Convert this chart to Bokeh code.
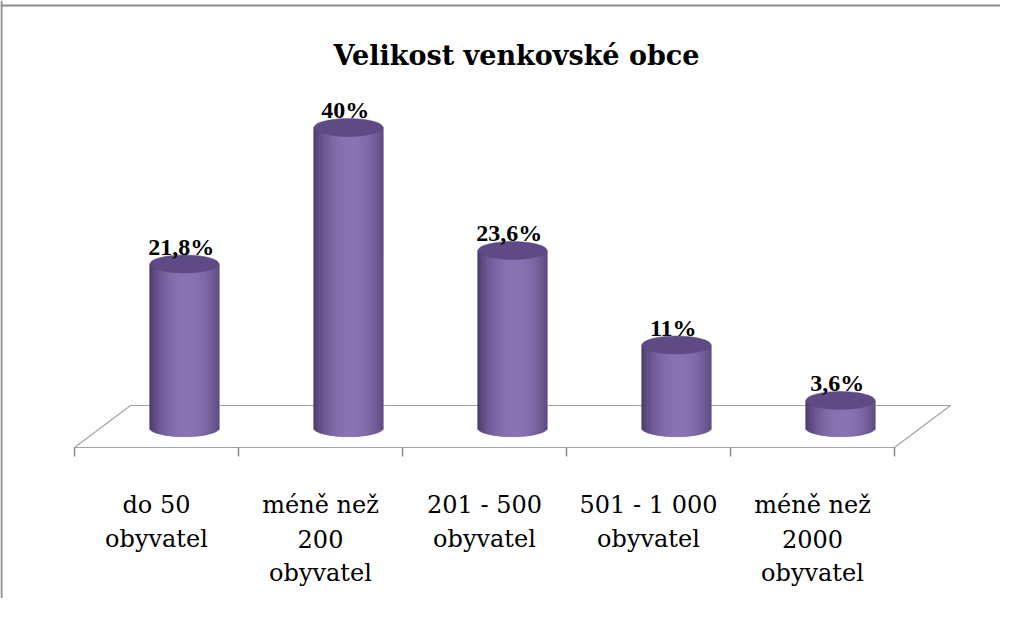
import math
from bokeh.plotting import figure
from bokeh.models import Range1d, Span, Label
from bokeh.core.properties import value
from bokeh.embed import file_html
from bokeh.resources import INLINE

# ---- data ----
title_text = "Velikost venkovské obce"
categories = ["do 50\nobyvatel", "méně než\n200\nobyvatel", "201 - 500\nobyvatel",
              "501 - 1 000\nobyvatel", "méně než\n2000\nobyvatel"]
values = [21.8, 40, 23.6, 11, 3.6]
value_labels = ["21,8%", "40%", "23,6%", "11%", "3,6%"]

# ---- geometry (category units on x, percent units on y) ----
PXU = 164.0
PYU = 7.5
depth_dx = 56 / PXU
floor_front = -20 / PYU
floor_back = 22 / PYU
bar_w = 69 / PXU
ell_b = 9 / PYU
tick_len = 9 / PYU
W, H = 1000, 598

p = figure(width=W, height=H, output_backend="svg", toolbar_location=None,
           x_range=Range1d(-156 / PXU, (W - 156) / PXU),
           y_range=Range1d(-(H - 427) / PYU, 427 / PYU),
           min_border=0, x_axis_type=None, y_axis_type=None)
p.grid.visible = False
p.outline_line_color = None
p.background_fill_color = "white"
p.border_fill_color = "white"

n = len(categories)
FONT_V = "Liberation Serif"
FONT_T = "DejaVu Serif"

# floor
fx = [-0.5, n - 0.5, n - 0.5 + depth_dx, -0.5 + depth_dx]
fy = [floor_front, floor_front, floor_back, floor_back]
p.patch(fx, fy, fill_color="white", line_color="#a3a3a3", line_width=1.2)
tx = [i - 0.5 for i in range(n + 1)]
p.segment(x0=tx, y0=[floor_front] * len(tx), x1=tx, y1=[floor_front - tick_len] * len(tx),
          line_color="#8a8a8a", line_width=1.5)

# cylinders
dark = (72, 55, 104)
light = (139, 116, 181)
N = 36
xs, ws, tops, bots, cols = [], [], [], [], []
for i, v in enumerate(values):
    cx = i + depth_dx / 2
    for j in range(N):
        t = -1 + (2 * j + 1) / N
        s = 1 - ((t - 0.08) / 1.08) ** 2
        s = max(0.0, min(1.0, s)) ** 0.8
        c = tuple(int(dark[k] + (light[k] - dark[k]) * s) for k in range(3))
        xs.append(cx + t * bar_w / 2)
        ws.append(bar_w / N)
        tops.append(v)
        bots.append(-ell_b * math.sqrt(max(0.0, 1 - t * t)))
        cols.append("#%02x%02x%02x" % c)
p.vbar(x=xs, width=ws, top=tops, bottom=bots, fill_color=cols, line_color=cols,
       line_width=1.2)

cxs = [i + depth_dx / 2 for i in range(n)]
p.ellipse(x=cxs, y=values, width=bar_w, height=2 * ell_b,
          fill_color="#5e4a84", line_color="#5a4780", line_width=0.5)

# value labels
p.text(x=[c - 0.02 for c in cxs], y=[v + ell_b + 1.1 for v in values], text=value_labels,
       text_font=value(FONT_V), text_font_style="bold", text_font_size="24px",
       text_align="center", text_baseline="alphabetic", text_color="black")

# category labels (one text per line)
lx, ly, lt = [], [], []
for i, c in enumerate(categories):
    for k, line in enumerate(c.split("\n")):
        lx.append(i)
        ly.append(-77 / PYU - k * 34 / PYU)
        lt.append(line)
p.text(x=lx, y=ly, text=lt, text_font=value(FONT_T), text_font_size="24px",
       text_align="center", text_baseline="alphabetic", text_color="black")

# title
p.add_layout(Label(x=516, y=H - 55, x_units="screen", y_units="screen", text=title_text,
                   text_font=FONT_T, text_font_style="bold", text_font_size="27px",
                   text_align="center", text_baseline="alphabetic", text_color="black"))

# chart border (top and left visible)
p.add_layout(Span(location=422 / PYU, dimension="width", line_color="#8c8c8c", line_width=2))
p.add_layout(Span(location=-156 / PXU + 1 / PXU, dimension="height", line_color="#8c8c8c", line_width=2))

open("out.html", "w").write(file_html(p, INLINE))
